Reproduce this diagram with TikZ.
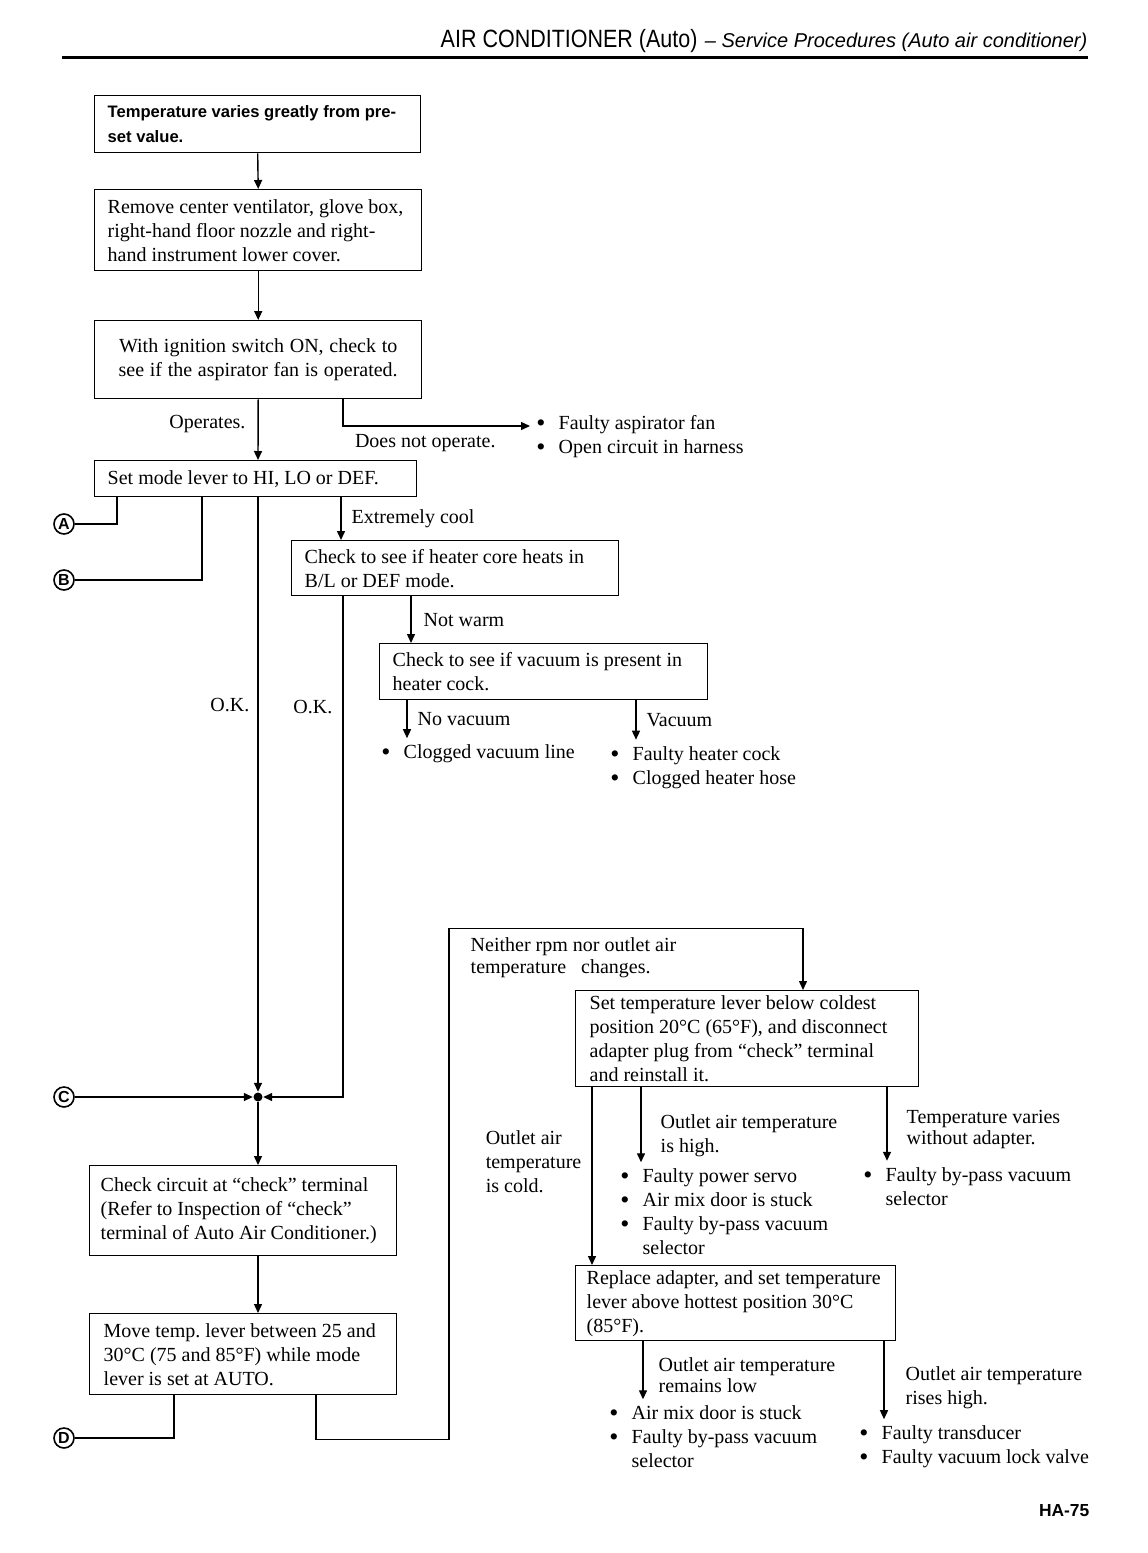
\documentclass[tikz,border=0pt]{standalone}
\usepackage{fontspec}
\usepackage{graphicx}
\setmainfont{Liberation Serif}
\setsansfont{Liberation Sans}
\usetikzlibrary{arrows.meta, positioning}

\newcommand{\blt}{\makebox[9pt][l]{\hspace*{-2.2pt}\raisebox{-0.9pt}{\fontsize{13}{12}\selectfont\textbullet}}}
\newcommand{\nob}{\hspace*{9pt}}

\tikzset{
  stepbox/.style={draw, anchor=north west, align=left, inner xsep=6.5pt, inner ysep=0pt,
    execute at begin node={\spaceskip=0pt\xspaceskip=0pt\relax}},
  txt/.style={inner sep=0pt, align=left},
  faults/.style={anchor=west, align=left, inner xsep=0pt, inner ysep=3pt},
  tag/.style={circle, draw, inner sep=0pt, minimum size=10pt, line width=0.8pt, font=\sffamily\bfseries\fontsize{8}{8}\selectfont}
}

\begin{document}
\begin{tikzpicture}[x=0.5pt, y=-0.5pt, >={Triangle[length=4.5pt,width=4pt]}, line width=0.7pt, font=\fontsize{10}{12}\selectfont]
\useasboundingbox (0,0) rectangle (1147,1553);

% heading
\node[txt, anchor=base west, font=\sffamily\fontsize{12.5}{14}\selectfont] (title) at (440,47) {\scalebox{0.86}[1]{AIR CONDITIONER (Auto)}};
\node[txt, anchor=base east, font=\sffamily\itshape\fontsize{10}{12}\selectfont] (subtitle) at (1088,47) {-- Service Procedures (Auto air conditioner)};
\draw[line width=1.5pt] (62,57) -- (1088,57);
\node[txt, anchor=base east, font=\sffamily\bfseries\fontsize{8.7}{10}\selectfont] (page) at (1090,1516) {HA-75};

% steps
\node[stepbox, font=\sffamily\bfseries\fontsize{8.3}{12.5}\selectfont, text width=150pt, minimum height=28.5pt] (varies) at (94,95) {Temperature varies greatly from pre-\\set value.};
\node[stepbox, text width=150.5pt, minimum height=40.5pt] (remove) at (94,189) {Remove center ventilator, glove box,\\right-hand floor nozzle and right-\\hand instrument lower cover.};
\node[stepbox, align=center, text width=150.5pt, minimum height=39pt] (fan) at (94,320) {With ignition switch ON, check to\\see if the aspirator fan is operated.};
\node[stepbox, text width=148pt, minimum height=18pt] (mode) at (94,460) {Set mode lever to HI, LO or DEF.};
\node[stepbox, text width=150.5pt, minimum height=27.5pt] (core) at (291,540) {Check to see if heater core heats in\\B/L or DEF mode.};
\node[stepbox, text width=151pt, minimum height=28pt] (vacuum) at (379,643) {Check to see if vacuum is present in\\heater cock.};
\node[stepbox, inner xsep=5.5pt, text width=142.5pt, minimum height=45pt] (circuit) at (89,1165) {Check circuit at ``check'' terminal\\(Refer to Inspection of ``check''\\terminal of Auto Air Conditioner.)};
\node[stepbox, inner xsep=7pt, text width=139.5pt, minimum height=40.5pt] (auto) at (89,1313) {Move temp.\ lever between 25 and\\30°C (75 and 85°F) while mode\\lever is set at AUTO.};
\node[stepbox, inner xsep=7pt, text width=157.5pt, minimum height=48pt] (coldest) at (575,990) {Set temperature lever below coldest\\position 20°C (65°F), and disconnect\\adapter plug from ``check'' terminal\\and reinstall it.};
\node[stepbox, inner xsep=5.5pt, text width=149pt, minimum height=37.5pt] (hottest) at (575,1265) {Replace adapter, and set temperature\\lever above hottest position 30°C\\(85°F).};

% causes
\node[faults] (fanfault) at (540,437) {\blt Faulty aspirator fan\\\blt Open circuit in harness};
\node[faults] (linefault) at (385,754) {\blt Clogged vacuum line};
\node[faults] (cockfault) at (614,767.5) {\blt Faulty heater cock\\\blt Clogged heater hose};
\node[faults] (highfault) at (624,1212) {\blt Faulty power servo\\\blt Air mix door is stuck\\\blt Faulty by-pass vacuum\\\nob selector};
\node[faults] (bypassfault) at (867,1186.5) {\blt Faulty by-pass vacuum\\\nob selector};
\node[faults] (lowfault) at (613,1437) {\blt Air mix door is stuck\\\blt Faulty by-pass vacuum\\\nob selector};
\node[faults] (risefault) at (863,1447) {\blt Faulty transducer\\\blt Faulty vacuum lock valve};

% page links
\node[tag] (tagA) at (64,524) {A};
\node[tag] (tagB) at (64,580) {B};
\node[tag] (tagC) at (64,1097) {C};
\node[tag] (tagD) at (64,1438) {D};
\node[circle, fill, inner sep=0pt, minimum size=4.5pt] (hub) at (258,1097) {};
\node[txt, anchor=west, font=\fontsize{10}{11}\selectfont] (neither) at (470,958) {Neither rpm nor outlet air\\temperature\ \ \ changes.};

% flow
\draw[->] (varies.south) -- (remove.north);
\draw[->] (remove.south) -- (fan.north);
\draw[->] (fan.south) -- node[pos=0.4, left=6pt, txt] {Operates.} ([xshift=82pt]mode.north west);
\draw[->] ([xshift=124.5pt]fan.south west) |- node[pos=0.72, below=4pt, txt] {Does not operate.} ([xshift=-5pt, yshift=5.5pt]fanfault.west);
\draw ([xshift=11.5pt]mode.south west) |- (tagA);
\draw ([xshift=54pt]mode.south west) |- (tagB);
\draw[->] ([xshift=82pt]mode.south west) -- node[pos=0.35, left=4pt, txt] {O.K.} (hub);
\draw[->] ([xshift=123.5pt]mode.south west) -- node[midway, right=5pt, txt] {Extremely cool} ([xshift=25pt]core.north west);
\draw[->] ([xshift=26pt]core.south west) |- node[pos=0.11, left=5pt, txt] {O.K.} (hub);
\draw[->] ([xshift=60pt]core.south west) -- node[midway, right=6pt, txt] {Not warm} ([xshift=16pt]vacuum.north west);
\draw[->] ([xshift=14pt]vacuum.south west) -- node[midway, right=5pt, txt] {No vacuum} ([xshift=11pt]linefault.north west);
\draw[->] ([xshift=128.5pt]vacuum.south west) -- node[midway, right=5pt, txt] {Vacuum} ([xshift=11pt]cockfault.north west);
\draw[->] (tagC) -- (hub);
\draw[->] (hub) -- ([xshift=84.5pt]circuit.north west);
\draw[->] ([xshift=84.5pt]circuit.south west) -- ([xshift=84.5pt]auto.north west);
\draw ([xshift=42.5pt]auto.south west) |- (tagD);
\draw[->] ([xshift=113.5pt]auto.south west) -- ++(0,44) -- ++(133,0) -- ++(0,-511) -| ([xshift=114pt]coldest.north west);
\draw[->] ([xshift=8.5pt]coldest.south west) -- node[pos=0.42, left=5pt, txt] {Outlet air\\temperature\\is cold.} ([xshift=8.5pt]hottest.north west);
\draw[->] ([xshift=33pt]coldest.south west) -- node[pos=0.65, right=9.5pt, txt] {Outlet air temperature\\is high.} ([xshift=8.5pt]highfault.north west);
\draw[->] ([xshift=156pt]coldest.south west) -- node[pos=0.58, right=9.5pt, txt, font=\fontsize{10}{10.5}\selectfont] {Temperature varies\\without adapter.} ([xshift=10pt]bypassfault.north west);
\draw[->] ([xshift=34pt]hottest.south west) -- node[pos=0.58, right=7.5pt, txt, font=\fontsize{10}{10.5}\selectfont] {Outlet air temperature\\remains low} ([xshift=15pt]lowfault.north west);
\draw[->] ([xshift=154.5pt]hottest.south west) -- node[pos=0.6, right=10.5pt, txt] {Outlet air temperature\\rises high.} ([xshift=10.5pt]risefault.north west);
\end{tikzpicture}
\end{document}
